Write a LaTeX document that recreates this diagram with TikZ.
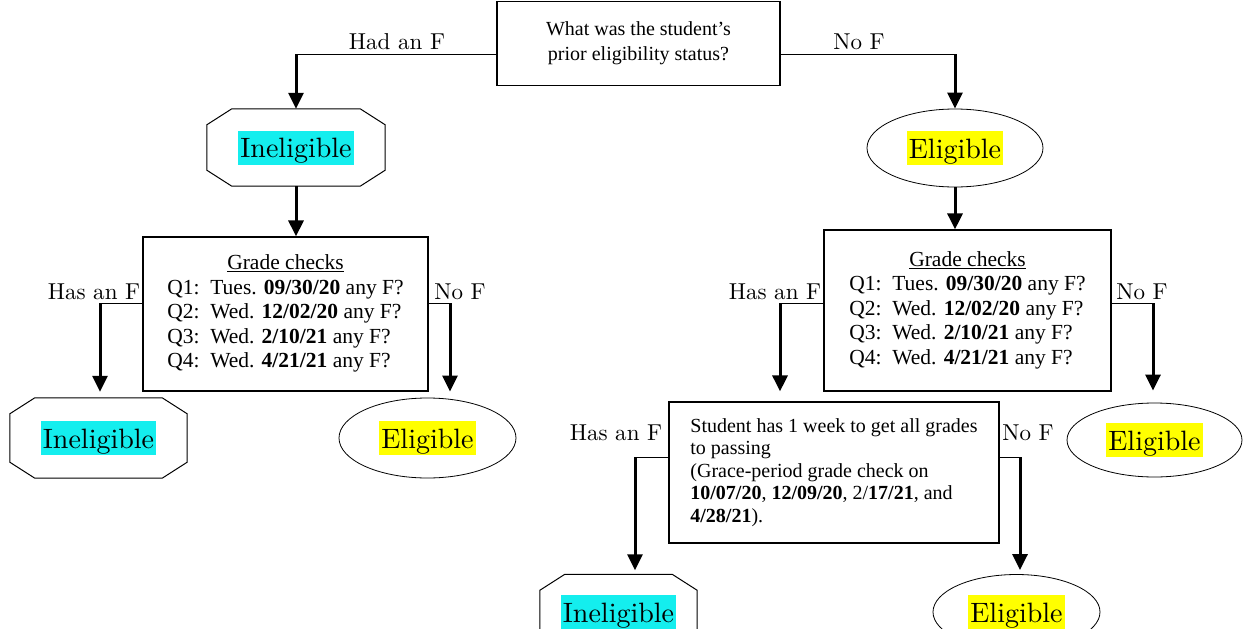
\documentclass[tikz,border=0pt]{standalone}
\usepackage{fontspec}
\newfontfamily\timesfont{Liberation Serif}
\newfontfamily\lmfont{lmroman10-regular.otf}
\usetikzlibrary{shapes.geometric,arrows.meta}

\definecolor{hicyan}{RGB}{20,238,238}
\definecolor{hiyellow}{RGB}{255,255,0}
\newcommand{\hilite}[2]{{\setlength{\fboxsep}{0pt}\colorbox{#1}{\rule[-7pt]{0pt}{34pt}\hspace{2pt}#2\hspace{2pt}}}}
\newcommand{\gradechecks}{\begin{tabular}{@{}l@{}}
  \multicolumn{1}{@{}c@{}}{\underline{Grade checks}}\\
  Q1:\ \ Tues. \textbf{09/30/20} any F?\\
  Q2:\ \ Wed. \textbf{12/02/20} any F?\\
  Q3:\ \ Wed. \textbf{2/10/21} any F?\\
  Q4:\ \ Wed. \textbf{4/21/21} any F?
  \end{tabular}}

\begin{document}
\begin{tikzpicture}[x=1pt, y=-1pt,
    box/.style={draw, line width=1.2pt, inner sep=0pt},
    inel/.style={rectangle, inner sep=0pt, font=\lmfont\fontsize{28}{32}\selectfont},
    elig/.style={ellipse, draw, line width=0.8pt, inner sep=0pt,
      font=\lmfont\fontsize{28}{32}\selectfont},
    grade/.style={box, font=\timesfont\fontsize{21.5}{24.5}\selectfont},
    lbl/.style={anchor=base, inner sep=0pt, font=\lmfont\fontsize{23}{27}\selectfont},
    link/.style={line width=1pt},
    arr/.style={line width=3pt, -{Triangle[width=15pt,length=16pt]}}]
  \useasboundingbox (0,0) rectangle (1243,629);

  % question at the top
  \node[box, minimum width=283pt, minimum height=84pt, align=center,
    font=\timesfont\fontsize{20}{25}\selectfont] (q) at (638.5,43.5)
    {What was the student’s\\prior eligibility status?};

  \node[inel, minimum width=178pt, minimum height=77pt] (inel1) at (296,147.5) {\hilite{hicyan}{Ineligible}};
  \node[elig, minimum width=176pt, minimum height=78pt] (el1) at (955,148) {\hilite{hiyellow}{Eligible}};

  \node[grade, minimum width=285pt, minimum height=154pt] (gc1) at (285.5,314) {\gradechecks};
  \node[grade, minimum width=287pt, minimum height=161pt] (gc2) at (967.5,310.5) {\gradechecks};

  \node[inel, minimum width=177pt, minimum height=80pt] (inel2) at (98.5,438) {\hilite{hicyan}{Ineligible}};
  \node[elig, minimum width=177pt, minimum height=80pt] (el2) at (427.5,438) {\hilite{hiyellow}{Eligible}};
  \node[elig, minimum width=175pt, minimum height=74pt] (el3) at (1154.5,440) {\hilite{hiyellow}{Eligible}};

  \node[box, minimum width=330pt, minimum height=141pt, align=left,
    font=\timesfont\fontsize{20}{22.5}\selectfont] (grace) at (834,472.5)
    {Student has 1 week to get all grades\\
     to passing\\
     (Grace-period grade check on\\
     \textbf{10/07/20}, \textbf{12/09/20}, 2/\textbf{17/21}, and\\
     \textbf{4/28/21}).};

  \node[inel, minimum width=157pt, minimum height=75pt] (inel3) at (618.5,612) {\hilite{hicyan}{Ineligible}};
  \node[elig, minimum width=167pt, minimum height=75pt] (el4) at (1016.5,612) {\hilite{hiyellow}{Eligible}};

  % octagon outlines
  \foreach \n in {inel1,inel2,inel3}
    \draw[line width=1pt] ([xshift=25pt]\n.north west) -- ([xshift=-25pt]\n.north east)
      -- ([yshift=-16pt]\n.north east) -- ([yshift=16pt]\n.south east)
      -- ([xshift=-25pt]\n.south east) -- ([xshift=25pt]\n.south west)
      -- ([yshift=16pt]\n.south west) -- ([yshift=-16pt]\n.north west) -- cycle;

  % branch corners
  \coordinate (hadf) at (296,54);
  \coordinate (nof) at (955,54);
  \coordinate (gl1) at (100,303);
  \coordinate (gl2) at (450,303);
  \coordinate (gr1) at (780,303);
  \coordinate (gr2) at (1153,303);
  \coordinate (gg1) at (635,457);
  \coordinate (gg2) at (1020,457);

  % labels
  \node[lbl] (lhad) at (397,49) {Had an F};
  \node[lbl] (lnof) at (859,49) {No F};
  \node[lbl] (lgl1) at (94,299) {Has an F};
  \node[lbl] (lgl2) at (460,299) {No F};
  \node[lbl] (lgr1) at (775,299) {Has an F};
  \node[lbl] (lgr2) at (1142,299) {No F};
  \node[lbl] (lgg1) at (616,440) {Has an F};
  \node[lbl] (lgg2) at (1028,440) {No F};

  % connectors
  \draw[link] (q.west |- hadf) -- (hadf);
  \draw[arr] (hadf) -- (inel1.north);
  \draw[link] (q.east |- nof) -- (nof);
  \draw[arr] (nof) -- (el1.north);
  \draw[arr] (inel1.south) -- (inel1.south |- gc1.north);
  \draw[arr] (el1.south) -- (el1.south |- gc2.north);

  \draw[link] (gc1.west |- gl1) -- (gl1);
  \draw[arr, shorten >=6pt] (gl1) -- (gl1 |- inel2.north);
  \draw[link] (gc1.east |- gl2) -- (gl2);
  \draw[arr, shorten >=6pt] (gl2) -- (gl2 |- el2.north);

  \draw[link] (gc2.west |- gr1) -- (gr1);
  \draw[arr, shorten >=10pt] (gr1) -- (gr1 |- grace.north);
  \draw[link] (gc2.east |- gr2) -- (gr2);
  \draw[arr, shorten >=12pt] (gr2) -- (gr2 |- el3.north);

  \draw[link] (grace.west |- gg1) -- (gg1);
  \draw[arr, shorten >=4pt] (gg1) -- (gg1 |- inel3.north);
  \draw[link] (grace.east |- gg2) -- (gg2);
  \draw[arr, shorten >=4pt] (gg2) -- (gg2 |- el4.north);
\end{tikzpicture}
\end{document}
